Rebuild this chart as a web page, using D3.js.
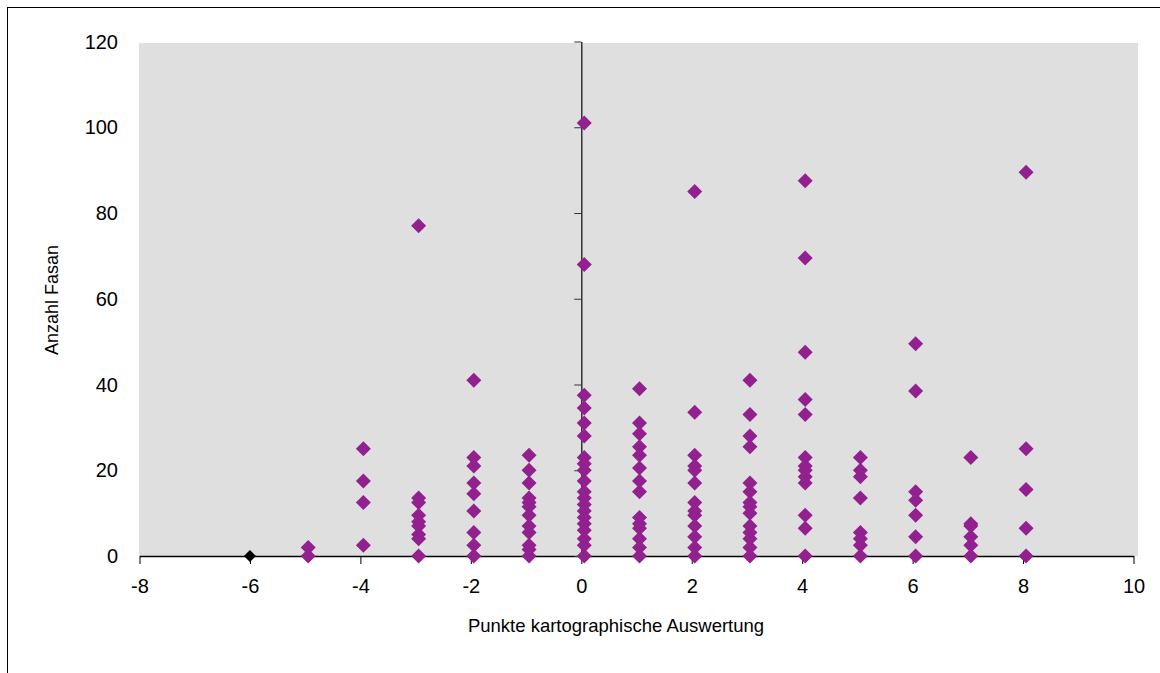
<!doctype html>
<html>
<head>
<meta charset="utf-8">
<style>
    body { margin: 0; background: #fff; }
    text { font-family: "Liberation Sans", Arial, sans-serif; fill: #000; }
</style>
<script src="https://d3js.org/d3.v7.min.js"></script>
</head>
<body>
<svg width="1160" height="673"></svg>
<script>
    // x categories (Punkte) and the Anzahl values read for each
    var punkte = [-5, -4, -3, -2, -1, 0, 1, 2, 3, 4, 5, 6, 7, 8];
    var anzahl = [
        [2, 0],
        [25, 17.5, 12.5, 2.5],
        [77, 13.5, 12.5, 9.5, 8, 7, 5, 4, 0],
        [41, 23, 21, 17, 14.5, 10.5, 5.5, 2.5, 0],
        [23.5, 20, 17, 13.5, 12.5, 11.5, 9.5, 7, 5.5, 2.5, 1.5, 0],
        [101, 68, 37.5, 34.5, 31, 28, 23, 21.5, 20, 17.5, 15, 13.5, 12, 10.5, 9, 7.5, 6, 4, 2.5, 0],
        [39, 31, 28.5, 25.5, 23.5, 20.5, 17.5, 15, 9, 7.5, 6.5, 4, 2, 0],
        [85, 33.5, 23.5, 21, 20, 17, 12.5, 10.5, 9.5, 7, 4.5, 2, 0],
        [41, 33, 28, 25.5, 17, 15, 12.5, 11.5, 10, 7, 5.5, 4, 2, 0],
        [87.5, 69.5, 47.5, 36.5, 33, 23, 21, 20, 18.5, 17, 9.5, 6.5, 0],
        [23, 20, 18.5, 13.5, 5.5, 4, 2.5, 0],
        [49.5, 38.5, 15, 13, 9.5, 4.5, 0],
        [23, 7.5, 7, 4.5, 2.5, 0],
        [89.5, 25, 15.5, 6.5, 0]
    ];
    // second series (black), one point
    var schwarzX = [-6];
    var schwarzY = [0];

    var xTicks = [-8, -6, -4, -2, 0, 2, 4, 6, 8, 10];
    var yTicks = [0, 20, 40, 60, 80, 100, 120];

    var svg = d3.select("svg");

    // outer chart border
    svg.append("rect")
       .attr("x", 7.5).attr("y", 7.5)
       .attr("width", 1300).attr("height", 800)
       .attr("fill", "none").attr("stroke", "#000").attr("stroke-width", 1);

    var x = d3.scaleLinear().domain([-8, 10]).range([139.5, 1133.5]);
    var y = d3.scaleLinear().domain([0, 120]).range([556, 41.5]);

    // plot area
    svg.append("rect")
       .attr("x", 139).attr("y", 43)
       .attr("width", 999).attr("height", 513)
       .attr("fill", "#dfdfdf");

    // x axis at y = 0
    var xAxis = svg.append("g")
       .attr("transform", "translate(0," + y(0) + ")")
       .call(d3.axisBottom(x).tickValues(xTicks).tickSize(8).tickSizeOuter(0).tickPadding(15)
             .tickFormat(function(d) { return String(d); }));
    xAxis.select(".domain").attr("stroke", "#000").attr("stroke-width", 1.5);
    xAxis.selectAll(".tick line").attr("stroke", "#000");
    xAxis.selectAll(".tick text").attr("font-size", "20px").attr("font-family", "Liberation Sans, Arial, sans-serif");

    // y axis at x = 0, labels on the left edge
    var yAxis = svg.append("g")
       .attr("transform", "translate(" + x(0) + ",0)")
       .call(d3.axisLeft(y).tickValues(yTicks).tickSize(7).tickSizeOuter(0).tickFormat(""));
    yAxis.select(".domain").attr("stroke", "#333").attr("stroke-width", 1.5);
    yAxis.selectAll(".tick line").attr("stroke", "#333");

    svg.append("g").selectAll("text")
       .data(yTicks)
       .enter().append("text")
       .attr("x", 118)
       .attr("y", function(d) { return y(d); })
       .attr("dy", "0.35em")
       .attr("text-anchor", "end")
       .attr("font-size", "20px")
       .text(function(d) { return d; });

    // diamonds
    function diamond(r) {
        return "M0," + (-r) + "L" + r + ",0L0," + r + "L" + (-r) + ",0Z";
    }

    var pts = [];
    punkte.forEach(function(p, i) {
        anzahl[i].forEach(function(v) { pts.push({ p: p, v: v }); });
    });

    svg.append("g").selectAll("path")
       .data(pts)
       .enter().append("path")
       .attr("d", diamond(7.5))
       .attr("transform", function(d) { return "translate(" + (x(d.p) + 3) + "," + y(d.v) + ")"; })
       .attr("fill", "#93208f");

    svg.append("g").selectAll("path")
       .data(schwarzX)
       .enter().append("path")
       .attr("d", diamond(6))
       .attr("transform", function(d, i) { return "translate(" + x(d) + "," + y(schwarzY[i]) + ")"; })
       .attr("fill", "#000");

    // axis titles
    svg.append("text")
       .attr("x", 616).attr("y", 632)
       .attr("text-anchor", "middle")
       .attr("font-size", "18.5px")
       .text("Punkte kartographische Auswertung");

    svg.append("text")
       .attr("transform", "translate(58,300) rotate(-90)")
       .attr("text-anchor", "middle")
       .attr("font-size", "18px")
       .text("Anzahl Fasan");
</script>
</body>
</html>
